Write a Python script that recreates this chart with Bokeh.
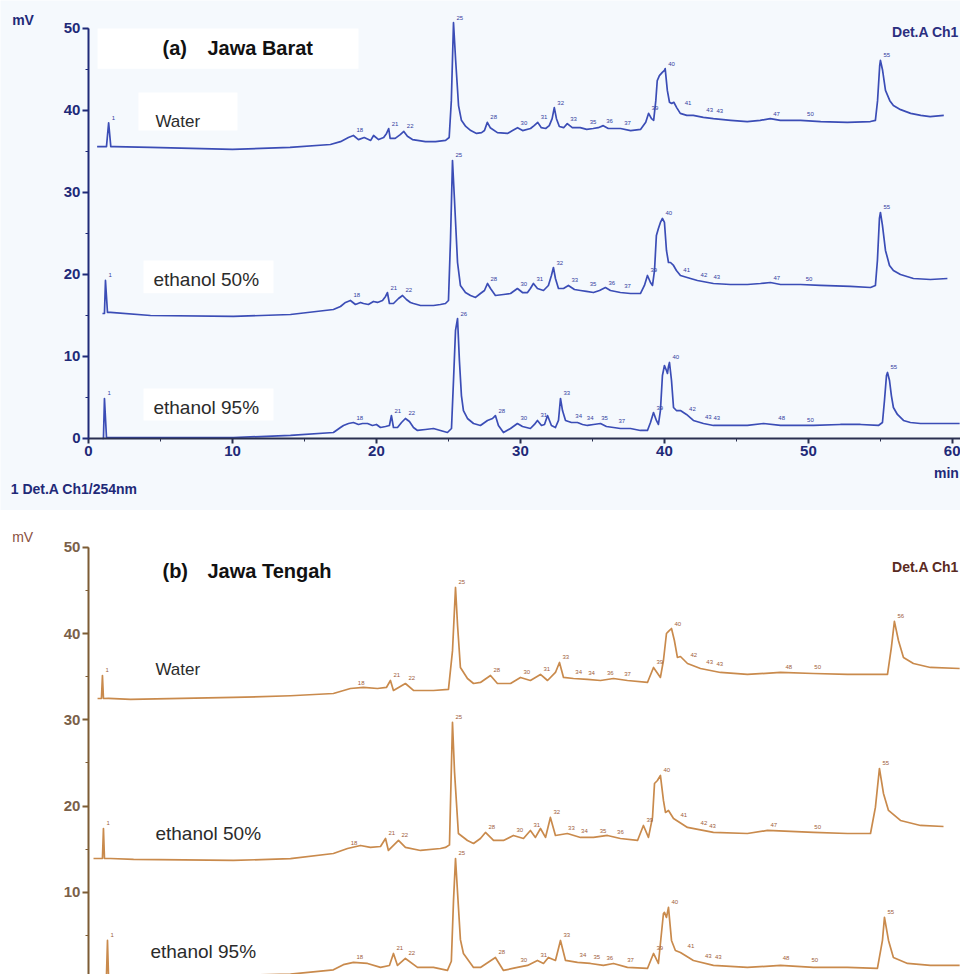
from bokeh.plotting import figure
from bokeh.layouts import column
from bokeh.models import Range1d, Label, BoxAnnotation, SingleIntervalTicker
from bokeh.core.properties import value
from bokeh.embed import file_html
from bokeh.resources import INLINE

# ---------------- data (retention time [min], signal [mV]) ----------------
time_ticks = [0, 10, 20, 30, 40, 50, 60]
mv_ticks = [0, 10, 20, 30, 40, 50]

# Panel (a) Jawa Barat
water_a = [(0.6,35.6),(1.25,35.6),(1.4,38.5),(1.55,35.6),(1.8,35.6),(4.3,35.5),(10.0,35.25),(14.0,35.5),
    (16.8,35.85),(17.5,36.2),(18.05,36.7),(18.4,36.95),(18.75,36.45),(19.15,36.7),(19.6,36.35),(19.8,36.95),
    (20.15,36.45),(20.5,36.7),(20.7,37.2),(20.85,37.8),(20.95,36.6),(21.3,36.6),(21.65,37.05),(21.9,37.45),
    (22.15,36.85),(22.5,36.45),(22.85,36.35),(23.4,36.2),(24.1,36.2),(24.8,36.35),(25.05,36.7),(25.2,41.2),
    (25.35,50.7),(25.5,46.1),(25.7,40.6),(25.9,38.8),(26.2,38.05),(26.55,37.55),(26.95,37.2),(27.3,37.3),
    (27.5,37.55),(27.7,38.55),(27.9,37.9),(28.4,37.3),(29.1,37.2),(29.45,37.55),(29.8,37.9),(30.15,37.55),
    (30.7,37.8),(30.95,38.15),(31.2,38.55),(31.45,37.9),(31.75,37.8),(32.0,38.15),(32.2,39.0),(32.35,40.35),
    (32.5,39.0),(32.7,38.05),(33.0,37.9),(33.25,38.4),(33.6,37.9),(34.15,37.9),(34.6,37.7),(35.05,37.8),
    (35.4,37.9),(35.75,38.15),(36.1,37.8),(36.55,37.8),(36.95,37.8),(37.65,37.55),(38.35,37.7),(38.7,38.55),
    (38.9,39.65),(39.1,39.0),(39.25,38.8),(39.4,41.2),(39.5,43.65),(39.65,44.25),(39.85,44.65),(40.0,44.9),
    (40.05,45.1),(40.2,42.45),(40.35,41.0),(40.5,40.85),(40.65,41.0),(40.85,40.35),(41.1,39.65),(41.55,39.4),
    (42.0,39.4),(42.7,39.15),(43.4,39.0),(44.6,38.8),(45.75,38.65),(46.65,38.8),(47.35,39.0),(48.05,38.8),
    (49.45,38.8),(50.85,38.65),(52.7,38.55),(54.3,38.65),(54.65,38.8),(54.8,41.2),(54.95,45.5),(55.0,46.1),
    (55.15,44.9),(55.35,42.45),(55.65,41.2),(55.9,40.6),(56.4,40.1),(57.1,39.65),(57.8,39.4),(58.45,39.25),
    (59.4,39.4)]

ethanol50_a = [(0.97,15.24),(1.11,15.24),(1.18,19.27),(1.32,15.37),(1.53,15.37),(4.31,15.0),(10.07,14.88),
    (14.03,15.12),(17.01,15.73),(17.5,16.1),(17.85,16.59),(18.19,16.83),(18.54,16.34),(18.89,16.59),(19.1,16.46),
    (19.44,16.34),(19.79,16.71),(20.07,16.59),(20.42,16.83),(20.63,17.32),(20.76,17.8),(20.9,16.46),(21.18,16.46),
    (21.53,17.07),(21.81,17.44),(22.08,16.95),(22.36,16.59),(22.57,16.46),(23.06,16.22),(23.96,16.22),(24.44,16.34),
    (24.79,16.46),(25.0,16.83),(25.14,24.15),(25.28,33.9),(25.42,29.02),(25.63,21.46),(25.83,18.66),(26.18,17.8),
    (26.53,17.44),(26.88,17.2),(27.22,17.68),(27.5,18.05),(27.71,18.9),(27.92,18.29),(28.26,17.44),(28.82,17.56),
    (29.31,17.68),(29.79,18.29),(30.14,17.8),(30.49,17.8),(30.69,18.29),(30.9,18.9),(31.18,18.29),(31.6,18.05),
    (31.94,18.66),(32.15,19.88),(32.29,20.85),(32.43,19.51),(32.64,18.29),(32.99,18.29),(33.33,18.66),(33.75,18.17),
    (34.17,18.05),(34.58,17.93),(35.07,17.8),(35.49,18.05),(35.9,18.41),(36.25,18.05),(36.94,17.8),(37.64,17.68),
    (38.33,17.68),(38.61,18.66),(38.82,19.88),(39.03,19.02),(39.17,18.66),(39.31,20.49),(39.44,24.76),(39.58,25.61),
    (39.72,26.34),(39.86,26.83),(40.0,26.34),(40.14,22.93),(40.28,21.46),(40.42,21.46),(40.63,21.1),(40.83,20.49),
    (41.11,19.88),(41.81,19.51),(42.29,19.27),(43.4,18.9),(44.58,18.78),(45.76,18.78),(46.67,18.9),(47.36,19.02),
    (48.06,18.78),(49.44,18.78),(50.83,18.66),(52.92,18.54),(54.31,18.41),(54.65,18.66),(54.79,21.71),(54.93,26.83),
    (55.0,27.56),(55.14,25.98),(55.35,22.93),(55.63,21.1),(55.9,20.49),(56.39,20.0),(57.29,19.51),(58.47,19.39),
    (59.65,19.51)]

ethanol95_a = [(0.97,0.0),(1.04,0.0),(1.11,4.88),(1.25,0.12),(1.53,0.12),(4.31,0.12),(10.07,0.12),(14.03,0.37),
    (17.01,0.73),(17.5,1.34),(17.71,1.59),(18.06,1.83),(18.4,1.95),(18.75,1.71),(19.03,1.83),(19.38,1.83),(19.72,1.59),
    (20.0,1.71),(20.28,1.34),(20.63,1.46),(20.9,1.59),(21.04,2.8),(21.18,1.34),(21.46,1.34),(21.74,1.95),(22.01,2.44),
    (22.29,2.07),(22.57,1.34),(22.85,0.98),(23.4,1.1),(23.96,1.22),(24.44,0.98),(24.93,0.73),(25.21,1.22),(25.35,7.07),
    (25.49,13.17),(25.63,14.63),(25.76,9.51),(25.9,5.24),(26.04,3.41),(26.32,2.44),(26.74,1.83),(27.22,1.59),(27.71,2.2),
    (28.06,2.44),(28.26,2.8),(28.47,1.59),(28.82,0.73),(29.31,1.22),(29.79,1.83),(30.14,1.46),(30.69,1.22),(30.97,1.71),
    (31.18,2.2),(31.46,1.59),(31.67,1.71),(31.88,2.8),(32.15,1.59),(32.43,1.34),(32.64,2.2),(32.78,4.88),(32.92,3.41),
    (33.13,2.2),(33.54,1.95),(33.96,1.95),(34.31,1.71),(34.65,1.59),(35.07,1.71),(35.56,1.83),(35.97,1.46),(36.46,1.34),
    (36.94,1.22),(37.64,1.22),(38.33,0.98),(38.82,0.98),(39.03,1.95),(39.24,3.17),(39.44,2.2),(39.58,1.71),(39.72,3.41),
    (39.86,7.68),(40.0,8.9),(40.14,8.29),(40.21,7.93),(40.28,8.78),(40.35,9.27),(40.49,7.07),(40.63,3.78),(40.83,3.41),
    (41.11,3.41),(41.53,2.93),(42.01,2.2),(42.71,1.83),(43.4,1.59),(44.58,1.59),(45.76,1.59),(46.88,1.83),(48.06,1.59),
    (50.35,1.59),(52.22,1.71),(53.61,1.71),(54.86,1.59),(55.14,1.95),(55.28,4.63),(55.42,7.68),(55.49,8.05),(55.63,7.07),
    (55.76,5.24),(55.9,3.78),(56.18,2.93),(56.6,2.2),(57.08,1.95),(57.78,1.83),(59.17,1.83),(60.5,1.83)]

# Panel (b) Jawa Tengah
water_b = [(0.63,32.48),(0.9,32.48),(0.97,35.15),(1.04,32.48),(1.4,32.5),(2.92,32.37),(10.07,32.6),(14.03,32.8),
    (17.01,33.06),(18.19,33.64),(19.1,33.76),(20.07,33.64),(20.69,33.76),(20.97,34.57),(21.18,33.41),(22.01,34.22),
    (22.57,33.41),(23.96,33.41),(25.0,33.53),(25.28,38.0),(25.49,45.36),(25.63,41.0),(25.83,36.08),(26.32,34.8),
    (26.74,34.22),(27.22,34.34),(27.92,35.15),(28.4,34.22),(29.31,34.22),(30.0,34.92),(30.69,34.57),(31.39,35.27),
    (31.88,34.57),(32.43,35.5),(32.71,36.66),(32.99,34.92),(33.68,34.8),(34.65,34.69),(35.56,34.57),(36.46,34.8),
    (37.43,34.57),(38.82,34.34),(39.24,36.08),(39.72,34.92),(39.93,36.89),(40.14,40.02),(40.28,40.26),(40.49,40.6),
    (40.69,39.21),(40.9,37.24),(41.11,37.35),(41.6,36.54),(42.5,35.96),(43.89,35.5),(45.76,35.27),(48.06,35.5),
    (50.35,35.38),(52.71,35.27),(55.49,35.27),(55.76,38.4),(55.97,41.42),(56.25,39.21),(56.6,37.24),(57.29,36.54),
    (58.47,36.08),(60.5,35.96)]

ethanol50_b = [(0.35,13.92),(0.97,13.92),(1.04,17.4),(1.11,13.92),(1.53,13.92),(3.13,13.81),(10.07,13.69),(14.03,13.9),
    (17.01,14.5),(17.99,15.08),(18.89,15.43),(19.58,15.2),(20.28,15.31),(20.63,16.24),(20.83,14.85),(21.53,16.01),
    (22.01,15.2),(23.06,14.85),(24.44,15.08),(24.79,15.2),(25.07,15.5),(25.28,29.7),(25.42,24.0),(25.69,16.82),
    (26.32,16.01),(26.74,15.66),(27.22,16.24),(27.57,16.94),(28.13,16.01),(28.82,16.01),(29.51,16.59),(30.21,16.24),
    (30.69,17.17),(31.04,16.36),(31.39,17.4),(31.74,16.36),(32.08,18.68),(32.43,16.59),(33.26,16.82),(34.17,16.36),
    (35.07,16.36),(36.04,16.59),(36.94,16.24),(38.13,16.01),(38.54,17.75),(38.89,16.36),(39.17,18.68),(39.31,22.62),
    (39.51,22.97),(39.72,23.55),(39.93,20.65),(40.07,19.26),(40.28,19.49),(40.63,18.56),(41.6,17.52),(43.4,16.94),
    (45.76,16.82),(47.15,17.17),(50.35,16.94),(52.71,16.82),(54.31,16.82),(54.65,19.84),(54.93,24.36),(55.21,21.46),
    (55.56,19.49),(56.39,18.33),(57.78,17.75),(59.38,17.63)]

ethanol95_b = [(1.0,0.3),(1.25,0.3),(1.32,4.41),(1.39,0.3),(1.6,0.3),(5.0,0.3),(10.07,0.35),(14.03,0.5),(17.01,1.0),
    (17.7,1.6),(18.4,1.86),(19.38,1.74),(20.28,1.28),(20.9,1.5),(21.18,2.9),(21.46,1.51),(22.01,2.32),(22.85,1.28),
    (23.96,1.28),(24.93,0.93),(25.2,2.0),(25.35,9.0),(25.49,13.92),(25.63,10.0),(25.83,4.5),(26.04,2.9),(26.74,1.28),
    (27.22,1.28),(28.26,2.44),(28.82,0.93),(29.79,1.28),(30.49,1.51),(31.18,2.09),(31.6,1.74),(31.94,2.44),(32.43,2.09),
    (32.78,4.41),(33.13,2.09),(33.96,1.86),(34.86,1.74),(35.76,1.51),(36.46,1.74),(37.43,1.28),(38.82,1.16),(39.24,2.9),
    (39.58,1.74),(39.93,7.54),(40.0,7.66),(40.14,7.08),(40.28,8.24),(40.49,4.41),(40.76,3.25),(41.11,3.02),(42.01,2.09),
    (43.4,1.51),(45.76,1.28),(48.06,1.51),(50.35,1.28),(52.71,1.28),(54.79,1.16),(55.14,4.41),(55.28,7.08),(55.56,4.41),
    (55.9,2.44),(56.88,1.74),(58.47,1.51),(60.5,1.51)]

# integrated peak tops (time, mV) that carry a small retention label in the original
peaks_water_a = [(1.4,38.5),(18.4,36.95),(20.85,37.8),(21.9,37.45),(25.35,50.7),(27.7,38.55),(29.8,37.9),
    (31.2,38.55),(32.35,40.35),(33.25,38.4),(34.6,38.0),(35.75,38.15),(37.0,37.9),(38.9,39.65),(40.05,45.1),
    (41.2,40.3),(42.7,39.4),(43.4,39.3),(47.35,39.0),(49.7,38.9),(55.0,46.1)]
peaks_e50_a = [(1.18,19.27),(18.19,16.83),(20.76,17.8),(21.81,17.44),(25.28,33.9),(27.71,18.9),(29.79,18.29),
    (30.9,18.9),(32.29,20.85),(33.33,18.66),(34.6,18.2),(35.9,18.41),(37.0,18.0),(38.82,19.88),(39.86,26.83),
    (41.1,19.88),(42.3,19.27),(43.2,19.1),(47.36,19.02),(49.6,18.9),(55.0,27.56)]
peaks_e95_a = [(1.11,4.88),(18.4,1.95),(21.04,2.8),(22.01,2.44),(25.63,14.63),(28.26,2.8),(29.79,1.83),
    (31.18,2.2),(32.78,4.88),(33.6,2.1),(34.4,1.9),(35.4,1.9),(36.6,1.5),(39.24,3.17),(40.35,9.27),
    (41.5,3.0),(42.6,2.0),(43.2,1.9),(47.7,1.9),(49.7,1.7),(55.49,8.05)]
peaks_water_b = [(0.97,35.15),(18.5,33.7),(20.97,34.57),(22.01,34.22),(25.49,45.36),(27.92,35.15),(30.0,34.92),
    (31.39,35.27),(32.71,36.66),(33.6,35.0),(34.5,34.9),(35.8,34.8),(37.0,34.7),(39.24,36.08),(40.49,40.6),
    (41.6,36.9),(42.7,36.1),(43.4,35.9),(48.2,35.6),(50.2,35.5),(55.97,41.42)]
peaks_e50_b = [(1.04,17.4),(18.0,15.1),(20.63,16.24),(21.53,16.01),(25.28,29.7),(27.57,16.94),(29.51,16.59),
    (30.69,17.17),(32.08,18.68),(33.1,16.9),(34.0,16.5),(35.3,16.5),(36.5,16.4),(38.54,17.75),(39.72,23.55),
    (40.9,18.4),(42.3,17.4),(42.9,17.1),(47.15,17.17),(50.2,17.0),(54.93,24.36)]
peaks_e95_b = [(1.32,4.41),(18.4,1.86),(21.18,2.9),(22.01,2.32),(25.49,13.92),(28.26,2.44),(29.79,1.6),
    (31.18,2.09),(32.78,4.41),(33.9,2.1),(34.86,1.9),(35.76,1.8),(37.2,1.6),(39.24,2.9),(40.28,8.24),
    (41.4,3.2),(42.6,2.0),(43.3,1.9),(48.0,1.8),(50.0,1.6),(55.28,7.08)]

sample_names = ["Water", "ethanol 50%", "ethanol 95%"]

FONT = "Liberation Sans"
NAVY = "#1f2a78"
TRACE_A = "#3b4db6"
PEAK_A = "#3340a0"
BROWN_AX = "#7d5c35"
BROWN_TXT = "#7a6048"
TRACE_B = "#c98a4c"
PEAK_B = "#a0603a"
BG_A = "#f5f9fd"

X_RANGE = (-6.11, 60.56)


def split(pairs):
    return [p[0] for p in pairs], [p[1] for p in pairs]


def base_fig(height, y_start, y_end, bg):
    p = figure(width=960, height=height, x_range=Range1d(*X_RANGE), y_range=Range1d(y_start, y_end),
               output_backend="svg", toolbar_location=None,
               min_border_left=0, min_border_right=0, min_border_top=0, min_border_bottom=0)
    p.background_fill_color = bg
    p.border_fill_color = bg
    p.outline_line_color = None
    p.xgrid.visible = False
    p.ygrid.visible = False
    return p


def style_y(p, line_color, label_color):
    ax = p.yaxis[0]
    ax.fixed_location = 0
    ax.ticker = SingleIntervalTicker(interval=10, num_minor_ticks=2)
    ax.bounds = (0, 50)
    ax.axis_line_color = line_color
    ax.axis_line_width = 2
    ax.major_tick_line_color = line_color
    ax.major_tick_line_width = 2
    ax.major_tick_out = 6
    ax.major_tick_in = 0
    ax.minor_tick_line_color = line_color
    ax.minor_tick_out = 3
    ax.minor_tick_in = 0
    ax.major_label_text_font = FONT
    ax.major_label_text_font_style = "bold"
    ax.major_label_text_font_size = "15px"
    ax.major_label_text_color = label_color
    ax.major_label_standoff = 2


def lab(p, x, y, text, size, color, style="normal", align="left", font=FONT):
    p.add_layout(Label(x=x, y=y, text=text, text_font=font, text_font_size=size,
                       text_font_style=style, text_color=color, text_align=align,
                       text_baseline="middle"))


def peak_marks(p, peaks, color):
    tx, vy = split(peaks)
    p.text(tx, vy, text=[str(int(round(t))) for t in tx], text_font=value(FONT),
           text_font_size="6px", text_color=color, x_offset=3, y_offset=-3,
           text_baseline="bottom", text_align="left")


# ---------------- panel (a) ----------------
pa = base_fig(510, -8.78, 53.41, BG_A)
style_y(pa, NAVY, NAVY)
xa = pa.xaxis[0]
xa.fixed_location = 0
xa.bounds = (0, 60.56)
xa.ticker = SingleIntervalTicker(interval=10, num_minor_ticks=2)
xa.axis_line_color = "#2a3050"
xa.axis_line_width = 2
xa.major_tick_line_color = "#2a3050"
xa.major_tick_line_width = 2
xa.major_tick_out = 5
xa.major_tick_in = 0
xa.minor_tick_out = 3
xa.minor_tick_in = 0
xa.minor_tick_line_color = "#2a3050"
xa.major_label_text_font = FONT
xa.major_label_text_font_style = "bold"
xa.major_label_text_font_size = "15px"
xa.major_label_text_color = NAVY
xa.major_label_standoff = 3

# white label boxes
for l, r, b, t in [(0.63, 18.75, 45.1, 50.0), (3.47, 10.35, 37.56, 42.2),
                   (3.82, 12.85, 17.7, 21.7), (3.82, 12.85, 2.2, 6.1)]:
    pa.add_layout(BoxAnnotation(left=l, right=r, bottom=b, top=t, fill_color="white",
                                fill_alpha=1, line_color=None, level="underlay"))

for series in (water_a, ethanol50_a, ethanol95_a):
    tx, vy = split(series)
    pa.line(tx, vy, line_color=TRACE_A, line_width=1.7, line_join="round")
for pk in (peaks_water_a, peaks_e50_a, peaks_e95_a):
    peak_marks(pa, pk, PEAK_A)

lab(pa, -5.3, 51.0, "mV", "14px", NAVY, "bold")
lab(pa, 5.14, 47.6, "(a)", "20px", "#111111", "bold")
lab(pa, 8.26, 47.6, "Jawa Barat", "20px", "#111111", "bold")
lab(pa, 4.65, 38.66, sample_names[0], "17px", "#2b2b2b")
lab(pa, 4.51, 19.4, sample_names[1], "19px", "#2b2b2b")
lab(pa, 4.51, 3.8, sample_names[2], "19px", "#2b2b2b")
lab(pa, 60.45, 49.6, "Det.A Ch1", "14px", "#2b2f80", "bold", "right")
lab(pa, 60.45, -4.15, "min", "14px", NAVY, "bold", "right")
lab(pa, -5.4, -6.1, "1 Det.A Ch1/254nm", "14px", NAVY, "bold")

# ---------------- panel (b) ----------------
pb = base_fig(464, 0.46, 54.29, "white")
style_y(pb, BROWN_AX, BROWN_TXT)
pb.xaxis.visible = False

for series in (water_b, ethanol50_b, ethanol95_b):
    tx, vy = split(series)
    pb.line(tx, vy, line_color=TRACE_B, line_width=1.7, line_join="round")
for pk in (peaks_water_b, peaks_e50_b, peaks_e95_b):
    peak_marks(pb, pk, PEAK_B)

lab(pb, -5.3, 51.2, "mV", "14px", "#8a5040")
lab(pb, 5.14, 47.3, "(b)", "20px", "#111111", "bold")
lab(pb, 8.26, 47.3, "Jawa Tengah", "20px", "#111111", "bold")
lab(pb, 4.65, 35.85, sample_names[0], "17px", "#2b2b2b")
lab(pb, 4.65, 16.82, sample_names[1], "19px", "#2b2b2b")
lab(pb, 4.3, 3.13, sample_names[2], "19px", "#2b2b2b")
lab(pb, 60.45, 47.7, "Det.A Ch1", "14px", "#5a2a22", "bold", "right")

layout = column(pa, pb, spacing=0)
open("out.html", "w").write(file_html(layout, INLINE))
